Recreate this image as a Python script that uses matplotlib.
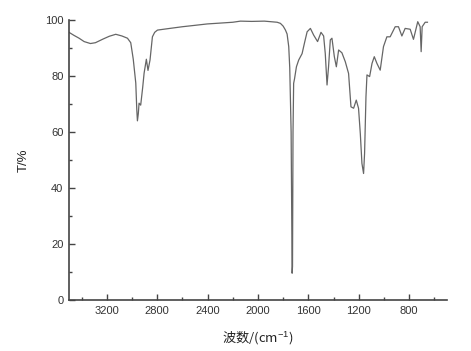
import matplotlib
matplotlib.use("Agg")
import matplotlib.pyplot as plt
from matplotlib.ticker import MultipleLocator

wavenumber = [3500, 3460, 3420, 3380, 3330, 3290, 3230, 3180, 3129, 3080, 3036, 3010,
              2990, 2970, 2962, 2957, 2950, 2944, 2931, 2915, 2904, 2886, 2873, 2857,
              2838, 2820, 2798, 2700, 2600, 2500, 2402, 2300, 2200, 2139, 2050, 1950,
              1848, 1822, 1800, 1782, 1769, 1756, 1748, 1737, 1733, 1729, 1726, 1722,
              1717, 1710, 1695, 1677, 1650, 1630, 1610, 1584, 1558, 1527, 1500, 1479,
              1466, 1452, 1440, 1426, 1413, 1394, 1378, 1360, 1334, 1307, 1281, 1262,
              1241, 1220, 1202, 1188, 1175, 1162, 1154, 1143, 1135, 1114, 1095, 1077,
              1056, 1030, 1004, 977, 951, 911, 885, 858, 832, 792, 766, 732, 713, 705,
              697, 673, 655]
transmittance = [95.6, 94.5, 93.5, 92.3, 91.6, 91.9, 93.2, 94.2, 94.9, 94.3, 93.5, 91.9,
                 86.0, 77.5, 68.0, 64.0, 66.5, 70.3, 69.6, 76.0, 81.0, 86.0, 82.0, 85.7,
                 94.0, 95.6, 96.4, 97.0, 97.6, 98.1, 98.6, 98.9, 99.2, 99.6, 99.5, 99.6,
                 99.2, 98.8, 97.8, 96.4, 95.0, 90.5, 83.0, 60.0, 35.0, 9.6, 12.0, 60.0,
                 77.4, 79.0, 83.3, 85.7, 88.0, 92.0, 95.8, 97.0, 94.6, 92.3, 95.6, 94.3,
                 88.0, 76.8, 83.3, 92.9, 93.5, 86.9, 83.3, 89.3, 88.3, 85.1, 80.9, 69.0,
                 68.5, 71.4, 68.5, 59.5, 48.8, 45.2, 52.4, 72.6, 80.4, 79.8, 84.5, 86.9,
                 84.5, 82.1, 90.5, 94.0, 94.0, 97.6, 97.6, 94.3, 97.0, 96.7, 93.1, 99.4,
                 97.6, 88.7, 97.6, 99.2, 99.2]

x_ticks = [3200, 2800, 2400, 2000, 1600, 1200, 800]
y_ticks = [0, 20, 40, 60, 80, 100]

plt.rcParams['font.family'] = ['Liberation Sans', 'Noto Sans CJK SC', 'DejaVu Sans']
plt.rcParams['mathtext.fontset'] = 'custom'
plt.rcParams['mathtext.rm'] = 'Liberation Sans'
plt.rcParams['mathtext.it'] = 'Liberation Sans'

fig = plt.figure(figsize=(4.71, 3.51), dpi=100)
ax = fig.add_axes([0.1465, 0.145, 0.949 - 0.1465, 0.943 - 0.145])
ax.plot(wavenumber, transmittance, color='#666666', lw=0.9)

ax.set_xlim(3500, 500)
ax.set_ylim(0, 100)
ax.set_xticks(x_ticks)
ax.set_yticks(y_ticks)
ax.xaxis.set_minor_locator(MultipleLocator(200))
ax.yaxis.set_minor_locator(MultipleLocator(10))

for s in ['top', 'right']:
    ax.spines[s].set_visible(False)
for s in ['left', 'bottom']:
    ax.spines[s].set_color('#444444')
    ax.spines[s].set_linewidth(1.2)

ax.tick_params(which='major', direction='in', length=4, width=1.0, color='#444444',
               labelsize=8, labelcolor='#333333', pad=4)
ax.tick_params(which='minor', direction='in', length=2, width=1.0, color='#444444')

ax.set_xlabel('波数/(cm$^{-1}$)', fontsize=9.5, color='#222222',
              family=['Noto Sans CJK SC', 'Liberation Sans'], labelpad=10)
ax.set_ylabel('T/%', fontsize=9.5, color='#222222', labelpad=11)

fig.savefig('out.png', dpi=100, facecolor='white')
